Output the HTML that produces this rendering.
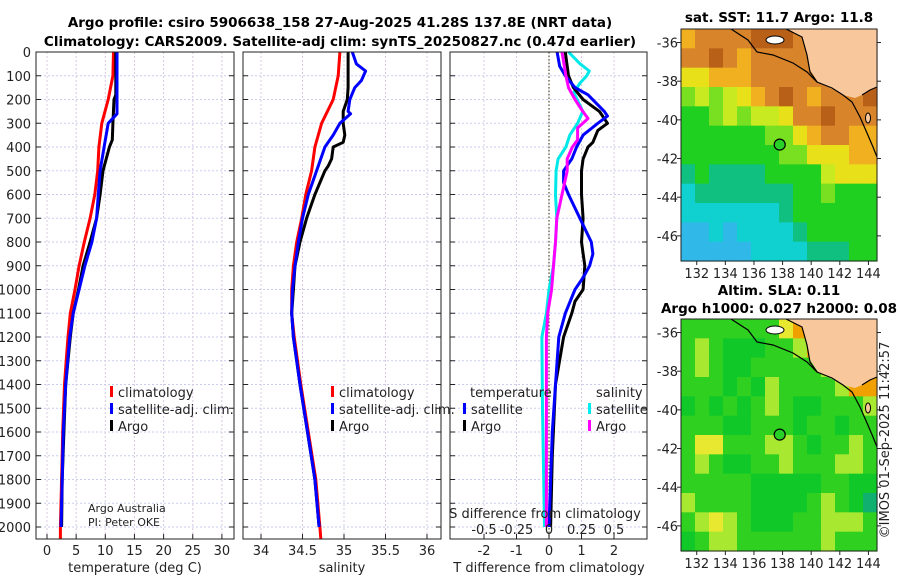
<!DOCTYPE html>
<html><head><meta charset="utf-8"><style>
body{margin:0;background:#fff}
svg{display:block;font-family:"DejaVu Sans","Liberation Sans",sans-serif}
.t{font-size:13px;fill:#222}
.b{font-weight:bold;font-size:13.5px;fill:#000}
</style></head><body>
<svg id="fig" width="900" height="580" viewBox="0 0 900 580">
<text class="b" x="340" y="27" text-anchor="middle">Argo profile: csiro 5906638_158 27-Aug-2025 41.28S 137.8E (NRT data)</text>
<text class="b" x="340" y="46" text-anchor="middle">Climatology: CARS2009. Satellite-adj clim: synTS_20250827.nc (0.47d earlier)</text>
<g id="grids"></g><g id="series"></g><g id="axes"></g><g id="maps"></g>
<text class="t" x="889" y="440" transform="rotate(-90 889 440)" text-anchor="middle">©IMOS 01-Sep-2025 11:42:57</text>
</svg>
<script>
// ---------- data ----------
const depthTicks=[0,100,200,300,400,500,600,700,800,900,1000,1100,1200,1300,1400,1500,1600,1700,1800,1900,2000];
const tempTicks=[0,5,10,15,20,25,30];
const salTicks=[34,34.5,35,35.5,36];
const tDiffTicks=[-2,-1,0,1,2];
const sDiffTicks=[-0.5,-0.25,0,0.25,0.5];
const sDiffTickLabels=["-0.5","-0.25","0","0.25","0.5"];

const tClimDepth=[0,100,200,300,400,500,600,700,800,900,1000,1100,1200,1300,1400,1500,1600,1700,1800,1900,2000,2050];
const tClimVal=[11.4,11.3,10.5,9.4,8.9,8.7,8.2,7.4,6.4,5.5,4.8,4.0,3.6,3.3,3.0,2.85,2.7,2.6,2.5,2.4,2.3,2.3];
const tSatDepth=[0,260,300,400,500,600,700,800,900,1000,1100,1200,1400,1600,1800,2000];
const tSatVal=[12.0,12.0,10.5,9.8,9.1,8.8,8.5,7.7,6.5,5.5,4.5,3.9,3.2,2.8,2.6,2.4];
const tArgoDepth=[0,180,200,300,370,400,500,600,700,800,900,1000,1100,1200,1400,1600,1800,2000];
const tArgoVal=[11.8,11.8,11.5,11.3,11.2,10.7,9.6,9.1,8.5,7.4,6.2,5.4,4.5,4.0,3.2,2.9,2.6,2.5];

const sClimDepth=[0,100,200,300,400,500,600,700,800,900,1000,1100,1200,1400,1600,1800,2000,2050];
const sClimVal=[34.95,34.93,34.87,34.73,34.65,34.61,34.54,34.49,34.43,34.39,34.37,34.37,34.40,34.48,34.57,34.66,34.71,34.72];
const sSatDepth=[0,50,80,120,150,200,250,260,300,350,400,500,600,700,800,900,1000,1100,1200,1400,1600,1800,2000];
const sSatVal=[35.10,35.15,35.26,35.21,35.13,35.07,35.05,35.08,34.95,34.87,34.77,34.67,34.57,34.50,34.45,34.41,34.38,34.37,34.39,34.47,34.56,34.65,34.70];
const sArgoDepth=[0,150,200,250,300,350,380,400,450,480,500,600,700,800,900,1000,1100,1200,1400,1600,1800,2000];
const sArgoVal=[35.05,35.05,35.04,34.99,34.99,35.01,34.99,34.87,34.85,34.81,34.77,34.65,34.55,34.47,34.41,34.39,34.37,34.39,34.47,34.56,34.65,34.70];

const dTSatDepth=[0,60,100,150,180,250,270,300,350,400,450,500,550,600,700,800,850,900,950,1000,1100,1200,1400,1600,1800,2000];
const dTSatVal=[0.25,0.33,0.5,0.8,1.2,1.7,1.8,1.5,1.05,0.85,0.7,0.45,0.45,0.6,0.95,1.3,1.35,1.25,1.05,0.8,0.5,0.3,0.2,0.1,0.05,0.0];
const dTArgoDepth=[0,100,150,200,250,300,330,380,400,450,500,600,700,800,900,1000,1050,1100,1200,1400,1700,2000];
const dTArgoVal=[0.5,0.6,0.75,1.05,1.55,1.8,1.5,1.35,1.2,1.05,1.0,1.0,1.05,1.0,1.1,1.05,0.8,0.7,0.45,0.2,0.1,0.05];
const dSSatDepth=[0,50,80,100,130,170,250,300,350,400,450,500,600,700,800,900,1000,1100,1200,1500,2000];
const dSSatVal=[0.15,0.24,0.31,0.29,0.24,0.19,0.26,0.22,0.16,0.13,0.07,0.055,0.05,0.06,0.05,0.035,0.0,-0.02,-0.055,-0.05,-0.035];
const dSArgoDepth=[0,100,150,200,250,280,320,370,400,450,500,600,700,800,900,1000,1100,1200,1600,2000];
const dSArgoVal=[0.10,0.13,0.15,0.2,0.26,0.3,0.22,0.22,0.18,0.14,0.14,0.10,0.06,0.05,0.035,0.02,-0.01,-0.02,-0.02,-0.02];

const sstGrid=[
"21111000100000","11012111110000","33222111111100","54543210121110","66545443110111",
"66666655321122","66666665533322","76777766664333","87777777665666","88888887666666",
"99898888766666","99999888877766"];
const slaGrid=[
"33333331000000","32344433200000","32344333332000","33343423333200","43434323443332",
"33344333433433","31133322343323","32344332333223","33333444443344","23333444432345",
"32123444332223","43223333332333"];
const argoLon=137.8, argoLat=-41.28;

// ---------- helpers ----------
const NS="http://www.w3.org/2000/svg";
function mk(tag,attrs,parent){const e=document.createElementNS(NS,tag);for(const k in attrs)e.setAttribute(k,attrs[k]);parent.appendChild(e);return e;}
const G=document.getElementById('grids'),S=document.getElementById('series'),A=document.getElementById('axes'),M=document.getElementById('maps');
const yD=d=>52+d*0.2375;
const xT=v=>47+v*5.83, xS=v=>261+(v-34)*83, xDT=v=>549+v*32.5, xDS=v=>549+v*130;
const panels=[[36,234],[243,441],[450,647]];
const TOP=52,BOT=539;

panels.forEach((p,i)=>{
  depthTicks.forEach(d=>{const l=mk('line',{x1:p[0],x2:p[1],y1:yD(d),y2:yD(d),stroke:'#c9cdf0','stroke-dasharray':'2,2','stroke-width':1},G);
    });
  const ticks=i==0?tempTicks:i==1?salTicks:tDiffTicks, fx=i==0?xT:i==1?xS:xDT;
  ticks.forEach(v=>{const l=mk('line',{x1:fx(v),x2:fx(v),y1:TOP,y2:BOT,stroke:'#d8c8e0','stroke-dasharray':'2,2','stroke-width':1},G);
    });
});
const z=mk('line',{x1:549,x2:549,y1:TOP,y2:BOT,stroke:'#505030','stroke-dasharray':'1.5,2','stroke-width':1.2},G);


function series(ds,vs,fx,color,name){
  const pts=ds.map((d,i)=>fx(vs[i]).toFixed(1)+','+yD(d).toFixed(1)).join(' ');
  const e=mk('polyline',{points:pts,fill:'none',stroke:color,'stroke-width':3,'stroke-linejoin':'round'},S);
  
  
}
series(tClimDepth,tClimVal,xT,'#ff0000','temp-climatology-line');
series(tArgoDepth,tArgoVal,xT,'#000','temp-argo-line');
series(tSatDepth,tSatVal,xT,'#0000ff','temp-satellite-line');
series(sClimDepth,sClimVal,xS,'#ff0000','sal-climatology-line');
series(sArgoDepth,sArgoVal,xS,'#000','sal-argo-line');
series(sSatDepth,sSatVal,xS,'#0000ff','sal-satellite-line');
series(dSSatDepth,dSSatVal,xDS,'#00e8e8','sdiff-satellite-line');
series(dTArgoDepth,dTArgoVal,xDT,'#000','tdiff-argo-line');
series(dTSatDepth,dTSatVal,xDT,'#0000ff','tdiff-satellite-line');
series(dSArgoDepth,dSArgoVal,xDS,'#ff00ff','sdiff-argo-line');

function txt(x,y,s,anchor,name,parent,cls){const e=mk('text',{x:x,y:y,'text-anchor':anchor||'start',class:cls||'t'},parent||A);e.textContent=s;
  return e;}
panels.forEach((p,i)=>{
  const r=mk('rect',{x:p[0],y:TOP,width:p[1]-p[0],height:BOT-TOP,fill:'none',stroke:'#222','stroke-width':1},A);
  
  depthTicks.forEach(d=>{mk('line',{x1:p[0],x2:p[0]+5,y1:yD(d),y2:yD(d),stroke:'#222'},A);mk('line',{x1:p[1]-5,x2:p[1],y1:yD(d),y2:yD(d),stroke:'#222'},A);});
});
depthTicks.forEach(d=>txt(31,yD(d)+5,String(d),'end','depth-tick-label'));
tempTicks.forEach(v=>{mk('line',{x1:xT(v),x2:xT(v),y1:BOT-5,y2:BOT,stroke:'#222'},A);txt(xT(v),555,String(v),'middle','temp-tick-label');});
salTicks.forEach(v=>{mk('line',{x1:xS(v),x2:xS(v),y1:BOT-5,y2:BOT,stroke:'#222'},A);txt(xS(v),555,String(v),'middle','sal-tick-label');});
tDiffTicks.forEach(v=>{mk('line',{x1:xDT(v),x2:xDT(v),y1:BOT-5,y2:BOT,stroke:'#222'},A);txt(xDT(v),555,String(v),'middle','tdiff-tick-label');});
sDiffTicks.forEach((v,i)=>txt(xDS(v),534,sDiffTickLabels[i],'middle','sdiff-tick-label'));
txt(135,572,'temperature (deg C)','middle','x-axis-title-temperature');
txt(342,572,'salinity','middle','x-axis-title-salinity');
txt(549,572,'T difference from climatology','middle','x-axis-title-tdiff');
txt(545,518,'S difference from climatology','middle','sdiff-axis-title');
txt(88,512,'Argo Australia','start','credit-line-1').setAttribute('style','font-size:11px');
txt(88,526,'PI: Peter OKE','start','credit-line-2').setAttribute('style','font-size:11px');

function leg(x,y,color,label,name){const b=mk('rect',{x:x,y:y-11,width:3,height:11,fill:color},A);
  txt(x+8,y,label,'start',name);}
leg(110,397,'#f00','climatology','legend-climatology');
leg(110,414,'#00f','satellite-adj. clim.','legend-satellite-adj');
leg(110,431,'#000','Argo','legend-argo');
leg(331,397,'#f00','climatology','legend2-climatology');
leg(331,414,'#00f','satellite-adj. clim.','legend2-satellite-adj');
leg(331,431,'#000','Argo','legend2-argo');
txt(470,397,'temperature','start','legend3-temperature-heading');
txt(596,397,'salinity','start','legend3-salinity-heading');
leg(463,414,'#00f','satellite','legend3-t-satellite');
leg(463,431,'#000','Argo','legend3-t-argo');
leg(588,414,'#0ee','satellite','legend3-s-satellite');
leg(588,431,'#f0f','Argo','legend3-s-argo');

// ---------- maps ----------
const sstCols=['#b86018','#d8842a','#f0b020','#e8e018','#c8ea20','#78e020','#20d020','#10c080','#10d0d0','#30b8e8'];
const slaCols=['#f0a000','#e8e830','#a8e830','#30d020','#10c828','#10b070'];
const lonTicks=[132,134,136,138,140,142,144], latTicks=[-36,-38,-40,-42,-44,-46];
function drawMap(top,bottom,grid,cols,nm){
  const L=681,R=877,lonL=130.9,lonR=144.6,latT=-35.3,latB=-47.3;
  const fx=lon=>L+(lon-lonL)/(lonR-lonL)*(R-L), fy=lat=>top+(latT-lat)/(latT-latB)*(bottom-top);
  const g=mk('g',{},M);
  const cw=(R-L)/14,ch=(bottom-top)/12;
  grid.forEach((row,r)=>{for(let c=0;c<14;c++){const e=mk('rect',{x:L+c*cw,y:top+r*ch,width:cw+0.6,height:ch+0.6,fill:cols[+row[c]]},g);
    }});
  const sx=(R-L)/196, sy=(bottom-top)/232;
  const P=a=>a.map(p=>(L+(p[0]-681)*sx).toFixed(1)+','+(top+(p[1]-29)*sy).toFixed(1)).join(' ');
  const land=[[788,29],[802,37],[807,55],[810,70],[818,82],[832,89],[843,95],[855,98],[862,95],[870,90],[877,87],[877,29]];
  const le=mk('polygon',{points:P(land),fill:'#f8c89c'},g);
  const coast=[[731,29],[748,40],[757,52],[773,55],[793,63],[807,72],[817,82],[832,88],[843,95],[852,102],[860,117],[867,133],[873,147],[877,157]];
  const ce=mk('polyline',{points:P(coast),fill:'none',stroke:'#000','stroke-width':1.2},g);
  mk('polyline',{points:P([[786,29],[802,37],[807,55],[810,72],[817,82]]),fill:'none',stroke:'#000','stroke-width':1.2},g);
  mk('polyline',{points:P([[862,95],[870,90],[877,87]]),fill:'none',stroke:'#000','stroke-width':1.2},g);
  mk('ellipse',{cx:775,cy:(top+(40-29)*sy),rx:9,ry:4,fill:'#fff',stroke:'#000'},g);
  mk('ellipse',{cx:868,cy:(top+(118-29)*sy),rx:2.5,ry:5,fill:'#f8c89c',stroke:'#000'},g);
  const c=mk('circle',{cx:fx(argoLon),cy:fy(argoLat),r:5.5,fill:'#28d028',stroke:'#000','stroke-width':1.2},g);
  
  const fr=mk('rect',{x:L,y:top,width:R-L,height:bottom-top,fill:'none',stroke:'#222'},g);
  
  lonTicks.forEach(v=>{mk('line',{x1:fx(v),x2:fx(v),y1:bottom,y2:bottom+4,stroke:'#222'},g);txt(fx(v),bottom+17,String(v),'middle','lon-tick-label',g);});
  latTicks.forEach(v=>{mk('line',{x1:L-4,x2:L,y1:fy(v),y2:fy(v),stroke:'#222'},g);mk('line',{x1:R,x2:R+4,y1:fy(v),y2:fy(v),stroke:'#222'},g);
    txt(L-3,fy(v)+5,String(v),'end','lat-tick-label',g);});
}
drawMap(29,261,sstGrid,sstCols,'sst-map');
drawMap(319,551,slaGrid,slaCols,'sla-map');
txt(779,22,'sat. SST: 11.7 Argo: 11.8','middle','sst-map-title',M,'b');
txt(779,295,'Altim. SLA: 0.11','middle','sla-map-title',M,'b');
txt(779,313,'Argo h1000: 0.027 h2000: 0.08','middle','sla-map-subtitle',M,'b');
</script>
</body></html>
